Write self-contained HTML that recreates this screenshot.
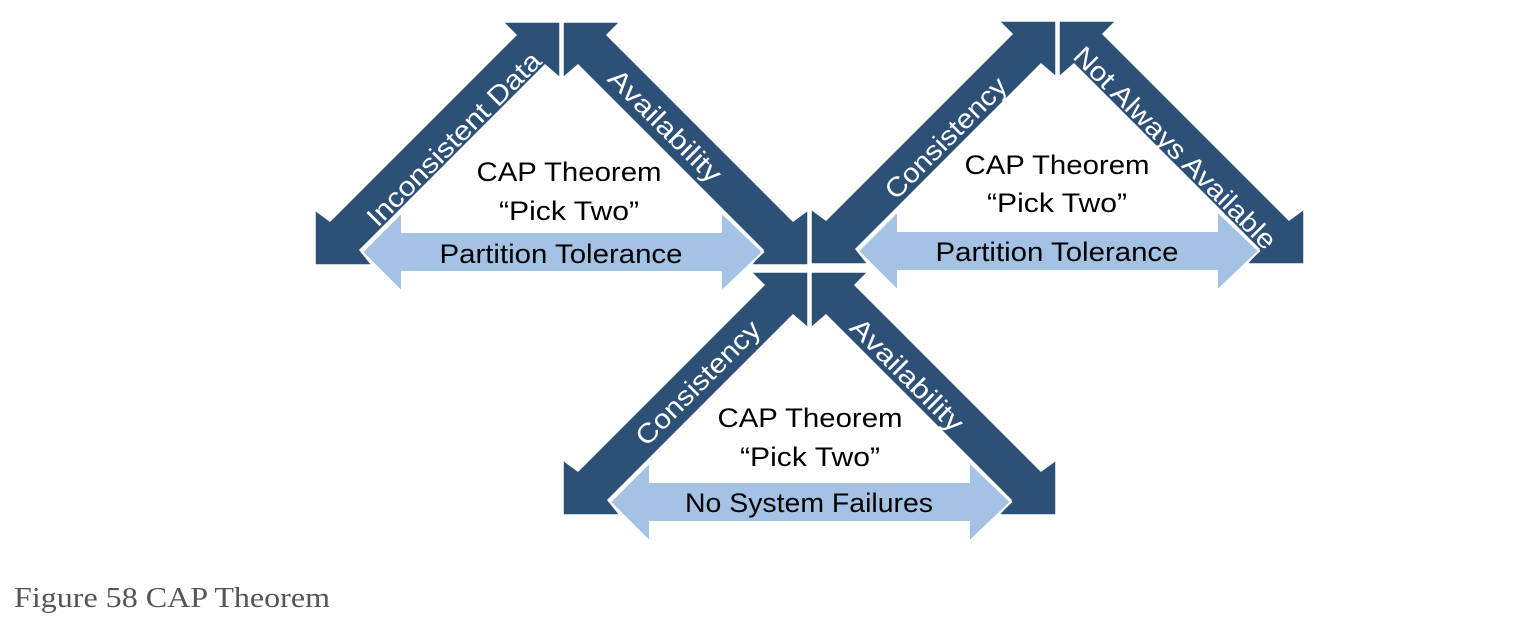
<!DOCTYPE html>
<html><head><meta charset="utf-8"><style>
html,body{margin:0;padding:0;background:#fff;width:1518px;height:620px;overflow:hidden}
svg{display:block}
</style></head><body>
<svg width="1518" height="620" viewBox="0 0 1518 620" xmlns="http://www.w3.org/2000/svg" font-family="Liberation Sans, sans-serif">
<defs>
<g id="tri">
  <polygon points="560,22 560,78 545,65 360,250 372,265 315,265 315,210 330,221 516,35 503,22" fill="#2d5077" stroke="#fff" stroke-width="1.5"/>
  <polygon points="563,22 563,78 578,65 763,250 751,265 808,265 808,210 793,221 607,35 620,22" fill="#2d5077" stroke="#fff" stroke-width="1.5"/>
  <polygon points="362,252 402,212 402,232 721,232 721,212 763,252 721,292 721,272 402,272 402,292" fill="#a4c2e4" stroke="#fff" stroke-width="2"/>
</g>
</defs>
<use href="#tri"/>
<use href="#tri" transform="translate(496,-1)"/>
<use href="#tri" transform="translate(248,250)"/>
<g font-size="27" text-anchor="middle" fill="#000">
<text x="569" y="181" textLength="185" lengthAdjust="spacingAndGlyphs">CAP Theorem</text>
<text x="569" y="220" textLength="140" lengthAdjust="spacingAndGlyphs">“Pick Two”</text>
<text x="1057" y="174" textLength="185" lengthAdjust="spacingAndGlyphs">CAP Theorem</text>
<text x="1057" y="212" textLength="140" lengthAdjust="spacingAndGlyphs">“Pick Two”</text>
<text x="810" y="427" textLength="185" lengthAdjust="spacingAndGlyphs">CAP Theorem</text>
<text x="810" y="466" textLength="140" lengthAdjust="spacingAndGlyphs">“Pick Two”</text>
<text x="561" y="263" textLength="243" lengthAdjust="spacingAndGlyphs">Partition Tolerance</text>
<text x="1057" y="261" textLength="243" lengthAdjust="spacingAndGlyphs">Partition Tolerance</text>
<text x="809" y="512" textLength="248" lengthAdjust="spacingAndGlyphs">No System Failures</text>
</g>
<g fill="#fff" font-size="27" text-anchor="middle">
<text transform="translate(454,139) rotate(-45)" y="9" textLength="234" lengthAdjust="spacingAndGlyphs">Inconsistent Data</text>
<text transform="translate(665,126) rotate(45)" y="9" textLength="148" lengthAdjust="spacingAndGlyphs">Availability</text>
<text transform="translate(946,138) rotate(-45)" y="9" textLength="160" lengthAdjust="spacingAndGlyphs">Consistency</text>
<text transform="translate(1175,148) rotate(45)" y="9" textLength="274" lengthAdjust="spacingAndGlyphs">Not Always Available</text>
<text transform="translate(698,383) rotate(-45)" y="9" textLength="164" lengthAdjust="spacingAndGlyphs">Consistency</text>
<text transform="translate(907,375) rotate(45)" y="9" textLength="148" lengthAdjust="spacingAndGlyphs">Availability</text>
</g>
<text x="14" y="607" font-family="Liberation Serif, serif" font-size="29" fill="#555" textLength="316" lengthAdjust="spacingAndGlyphs">Figure 58 CAP Theorem</text>
</svg>
</body></html>
